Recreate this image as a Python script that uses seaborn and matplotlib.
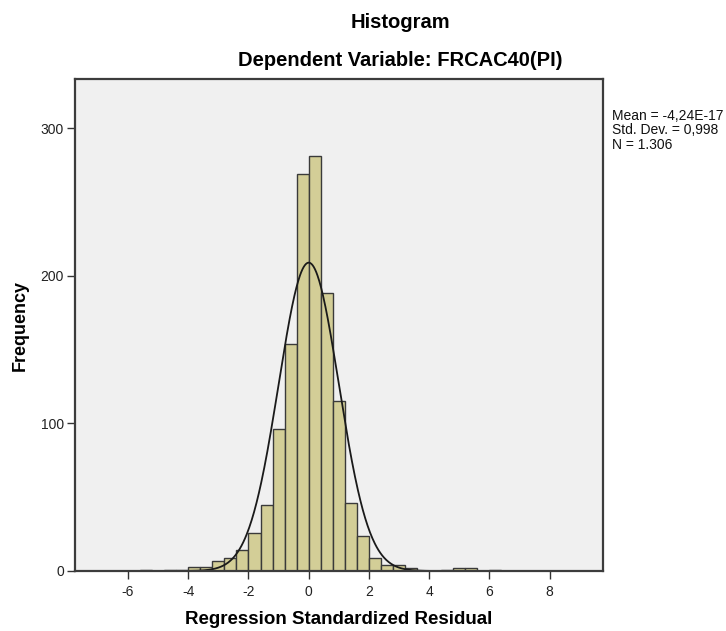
import numpy as np
import pandas as pd
import matplotlib
matplotlib.use("Agg")
import matplotlib.pyplot as plt
import seaborn as sns

# ---- data ----
bin_edges = [round(-5.6 + 0.4 * i, 1) for i in range(31)]
counts = [1, 0, 1, 1, 3, 3, 7, 9, 14, 26, 45, 96, 154, 269, 281,
          188, 115, 46, 24, 9, 4, 4, 2, 0, 0, 1, 2, 2, 0, 1]
stat_mean = -4.24e-17
stat_sd = 0.998
stat_n = 1306
x_ticks = [-6, -4, -2, 0, 2, 4, 6, 8]
y_ticks = [0, 100, 200, 300]
legend_lines = ["Mean = -4,24E-17", "Std. Dev. = 0,998", "N = 1.306"]

centers = [(a + b) / 2 for a, b in zip(bin_edges[:-1], bin_edges[1:])]
df = pd.DataFrame({"resid": centers, "freq": counts})

sns.set_theme(style="white")
plt.rcParams["font.family"] = ["Liberation Sans", "DejaVu Sans"]

fig = plt.figure(figsize=(7.26, 6.31), dpi=100)
ax_bottom_px, ax_top_px = 571.0, 79.3
ax = fig.add_axes([75 / 726, 1 - ax_bottom_px / 631, (603.3 - 75) / 726,
                   (ax_bottom_px - ax_top_px) / 631])
ax.set_facecolor("#F0F0F0")

sns.histplot(data=df, x="resid", weights="freq", bins=bin_edges, ax=ax,
             color="#D3CE97", edgecolor="#3a3a3a", linewidth=1.0, alpha=1.0)

# fitted normal curve
bw = bin_edges[1] - bin_edges[0]
xs = np.linspace(-4.0, 4.0, 400)
ys = stat_n * bw / (stat_sd * np.sqrt(2 * np.pi)) * np.exp(-0.5 * ((xs - stat_mean) / stat_sd) ** 2)
ax.plot(xs, ys, color="#1a1a1a", linewidth=1.3)

ax.set_xlim(-7.76, 9.78)
ax.set_ylim(0, 333)
ax.set_xticks(x_ticks)
ax.set_yticks(y_ticks)
ax.set_xticklabels([str(t) for t in x_ticks], fontsize=10, color="#222222")
ax.set_yticklabels([str(t) for t in y_ticks], fontsize=10, color="#222222")
ax.tick_params(axis="both", direction="out", length=6, width=1, color="#333333",
               bottom=True, left=True)
ax.tick_params(axis="x", pad=4)
ax.tick_params(axis="y", pad=2)
for s in ax.spines.values():
    s.set_color("#3c3c3c")
    s.set_linewidth(1.6)
    s.set_visible(True)

ax_h_px = ax_bottom_px - ax_top_px
ax.set_xlabel("Regression Standardized Residual", fontsize=13.5, fontweight="bold",
              color="black", va="center")
ax.xaxis.set_label_coords(0.5, -(620 - ax_bottom_px) / ax_h_px)
ax.set_ylabel("Frequency", fontsize=13, fontweight="bold", color="black", va="center")
ax.yaxis.set_label_coords(-(75 - 20) / 528.3, 0.5)

fig.text(400 / 726, 1 - 22 / 631, "Histogram", ha="center", va="center",
         fontsize=14.5, fontweight="bold", color="black")
fig.text(400 / 726, 1 - 61 / 631, "Dependent Variable: FRCAC40(PI)", ha="center",
         va="center", fontsize=14.5, fontweight="bold", color="black")

for i, line in enumerate(legend_lines):
    fig.text(612 / 726, 1 - (116 + 14.3 * i) / 631, line, ha="left", va="center",
             fontsize=10, color="#111111")

fig.savefig("out.png", dpi=100)
